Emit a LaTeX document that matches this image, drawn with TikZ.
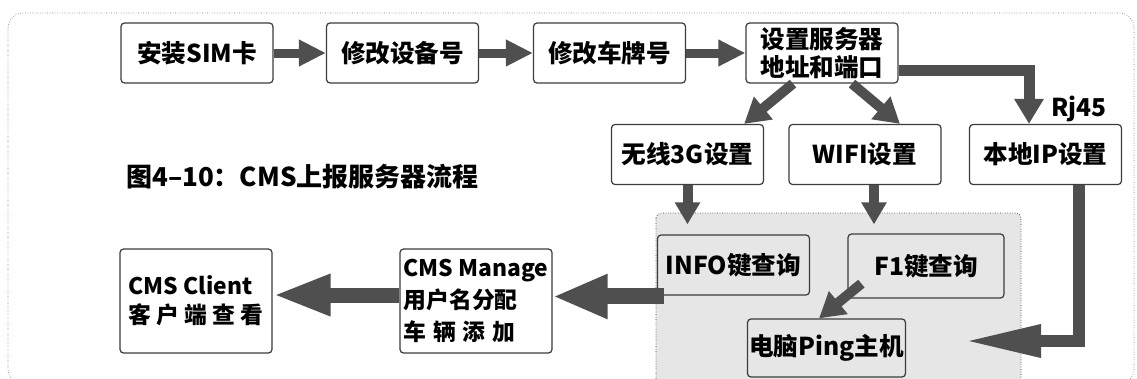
\documentclass[tikz,border=0pt]{standalone}
\usepackage{fontspec}
\setmainfont{Noto Sans CJK SC}
\usepackage{tikz}
\usetikzlibrary{arrows.meta, positioning, calc}
\usepackage{xcolor}
\definecolor{arrowgray}{HTML}{4F4F4F}
\definecolor{panelgray}{HTML}{E6E6E6}
\definecolor{edgegray}{HTML}{3C3C3C}
\tikzset{%
	box/.style={
		draw=edgegray,
		line width=0.7pt,
		rounded corners=2pt,
		fill=white,
		minimum width=3.04cm,
		minimum height=1.2cm,
		inner sep=1pt,
		align=center,
		font=\fontsize{14}{16}\selectfont\bfseries
	},
	inbox/.style={box, fill=panelgray},
	flow/.style={draw=arrowgray, line width=0.18cm, -{Triangle[length=0.54cm, width=0.5cm]}},
	fork/.style={draw=arrowgray, line width=0.2cm, -{Triangle[length=0.5cm, width=0.56cm]}},
	drop/.style={draw=arrowgray, line width=0.2cm, -{Triangle[length=0.44cm, width=0.48cm]}},
	back/.style={draw=arrowgray, line width=0.32cm, -{Triangle[length=1.1cm, width=0.82cm]}},
}

\begin{document}
\begin{tikzpicture}[x=0.02cm, y=-0.02cm]
			
			\useasboundingbox (0,0) rectangle (1137,379);
			\clip (0,0) rectangle (1137,379);
			
			% Outer frame and gray panel
			\draw[densely dotted, gray, rounded corners=0.3cm] (8,13) rectangle (1134,384);
			\draw[densely dotted, edgegray, fill=panelgray, rounded corners=3pt] (656,213) rectangle (1021,392);
			
			% Top row
			\node[box] (sim) at (197,53) {安装SIM卡};
			\node[box] (dev) at (402.5,53) {修改设备号};
			\node[box] (plate) at (609.5,53) {修改车牌号};
			\node[box] (server) at (822,53) {设置服务器\\地址和端口};
			
			% Second row
			\node[box] (g3) at (687.5,154.5) {无线3G设置};
			\node[box] (wifi) at (865,154.5) {WIFI设置};
			\node[box] (lanip) at (1045.5,154.5) {本地IP设置};
			\node[anchor=west, font=\fontsize{14}{16}\selectfont\bfseries] (rj) at (1045,109) {Rj45};
			\node[anchor=west, font=\fontsize{14.8}{17}\selectfont\bfseries] (title) at (120,177) {图4–10：CMS上报服务器流程};
			
			% Inside the panel
			\node[inbox] (info) at (733.5,265) {INFO键查询};
			\node[inbox, minimum width=3.12cm, minimum height=1.28cm] (f1) at (926,266) {F1键查询};
			\node[inbox, minimum width=3.14cm, minimum height=1.16cm] (ping) at (826.5,348) {电脑Ping主机};
			
			% Bottom left
			\node[box, minimum height=2.08cm, align=left, font=\fontsize{13}{16.5}\selectfont\bfseries] (client) at (196,301) {CMS Client\\客 户 端 查 看};
			\node[box, minimum height=2.08cm, align=left, font=\fontsize{13}{18}\selectfont\bfseries] (manage) at (476,301) {CMS Manage\\用户名分配\\车\hspace{0.3em}辆\hspace{0.3em}添\hspace{0.3em}加};
			
			% Arrows
			\draw[flow] (sim) -- (dev);
			\draw[flow] (dev) -- (plate);
			\draw[flow] (plate) -- (server);
			\draw[fork] ([xshift=-0.58cm]server.south) -- ([xshift=-0.4cm]g3.north east);
			\draw[fork] ([xshift=0.6cm]server.south) -- ([xshift=0.7cm]wifi.north);
			\draw[fork, line width=0.22cm] ([yshift=-0.35cm]server.east) -| ([xshift=-0.33cm]lanip.north);
			\draw[drop, shorten >=0.2cm] (g3.south) -- (g3.south |- info.north);
			\draw[drop, shorten >=0.18cm] ($(wifi.south)+(0.18cm,0)$) -- ($(wifi.south |- f1.north)+(0.18cm,0)$);
			\draw[fork] ([xshift=0.28cm, yshift=0.3cm]f1.south west) -- ([xshift=-0.15cm]ping.north);
			\draw[draw=arrowgray, line width=0.25cm, -{Triangle[length=1.56cm, width=0.6cm]}] ([xshift=0.67cm]lanip.south) |- ($(ping.east)+(1.14cm,0.14cm)$);
			\coordinate (infoout) at ($(info.west)+(0.14cm,-0.63cm)$);
			\draw[back] (infoout) -- (infoout -| manage.east);
			\draw[back, line width=0.3cm, -{Triangle[length=1.16cm, width=0.76cm]}] ([yshift=0.12cm]manage.west) -- ([yshift=0.12cm]client.east);
			
		\end{tikzpicture}
\end{document}
